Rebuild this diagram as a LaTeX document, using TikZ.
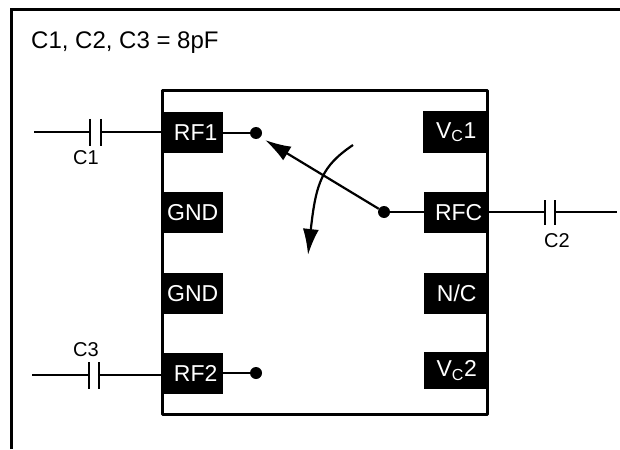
\documentclass[tikz,border=0pt]{standalone}
\usepackage{fontspec}
\setmainfont{Liberation Sans}
\usetikzlibrary{calc, arrows.meta}

\tikzset{
  pad/.style={fill=black, text=white, inner sep=0pt, anchor=north west, align=center,
    font=\fontsize{23}{25}\selectfont},
  dot/.style={circle, fill=black, inner sep=0pt, minimum size=12pt},
  lbl/.style={inner sep=0pt, font=\fontsize{20}{22}\selectfont},
  wire/.style={line width=2.2pt},
  plate/.style={line width=2.6pt},
  heavy/.style={line width=3pt},
  tip/.style={-{Latex[length=26pt,width=16pt]}}
}
\newcommand{\vcname}[1]{V\textsubscript{\fontsize{16}{16}\selectfont C}#1}

\begin{document}
\begin{tikzpicture}[x=1pt,y=-1pt]
    \useasboundingbox (0,0) rectangle (620,449);

    % outer frame
    \draw[heavy] (11,449) -- (11,10) -- (620,10);
    \node[inner sep=0pt, anchor=base west, font=\fontsize{24}{26}\selectfont] (title) at (31,49) {C1, C2, C3 = 8pF};

    % chip body
    \draw[heavy, line join=round] (162,91) rectangle (487,414);

    % pads
    \node[pad, minimum width=61pt, minimum height=41pt] (rf1) at (162,112) {\hspace*{6pt}RF1};
    \node[pad, minimum width=61pt, minimum height=41pt] (gnd1) at (162,192) {GND};
    \node[pad, minimum width=61pt, minimum height=41pt] (gnd2) at (162,273) {GND};
    \node[pad, minimum width=61pt, minimum height=41pt] (rf2) at (162,353) {\hspace*{6pt}RF2};
    \node[pad, minimum width=64pt, minimum height=42pt] (vc1) at (423,111) {\hspace*{2pt}\vcname{1}};
    \node[pad, minimum width=65pt, minimum height=41pt] (rfc) at (424,192) {\hspace*{4pt}RFC};
    \node[pad, minimum width=65pt, minimum height=41pt] (nc) at (424,273) {N/C};
    \node[pad, minimum width=65pt, minimum height=37pt] (vc2) at (424,352) {\vcname{2}};

    % contacts
    \node[dot] (s1) at (256,133) {};
    \node[dot] (s2) at (256,373) {};
    \node[dot] (sc) at (384,212) {};
    \draw[wire] (rf1.east |- s1) -- (s1);
    \draw[wire] (rf2.east |- s2) -- (s2);
    \draw[wire] (sc) -- (rfc.west |- sc);

    % capacitors
    \coordinate (c1a) at (90,132);
    \coordinate (c1b) at (101,132);
    \coordinate (in1) at (34,132);
    \draw[wire] (in1) -- (c1a);
    \draw[wire] (c1b) -- (rf1.west |- c1b);
    \draw[plate] (90,119) -- (90,146);
    \draw[plate] (101,119) -- (101,146);
    \node[lbl] (c1) at (86,158) {C1};

    \coordinate (c2a) at (545,212);
    \coordinate (c2b) at (555,212);
    \coordinate (out) at (617,212);
    \draw[wire] (rfc.east |- c2a) -- (c2a);
    \draw[wire] (c2b) -- (out);
    \draw[plate] (545,200) -- (545,225);
    \draw[plate] (555,200) -- (555,225);
    \node[lbl] (c2) at (557,241) {C2};

    \coordinate (c3a) at (89,375);
    \coordinate (c3b) at (99,375);
    \coordinate (in3) at (32,375);
    \draw[wire] (in3) -- (c3a);
    \draw[wire] (c3b) -- (rf2.west |- c3b);
    \draw[plate] (89,362) -- (89,389);
    \draw[plate] (99,362) -- (99,389);
    \node[lbl] (c3) at (86,350) {C3};

    % switch arm and direction
    \coordinate (armtip) at (265,140);
    \coordinate (swa) at (353,145);
    \coordinate (swb) at (308,255);
    \draw[wire, tip] (sc) -- (armtip);
    \draw[wire, tip] (swa) .. controls (322,166) and (316,182) .. (swb);
\end{tikzpicture}
\end{document}
